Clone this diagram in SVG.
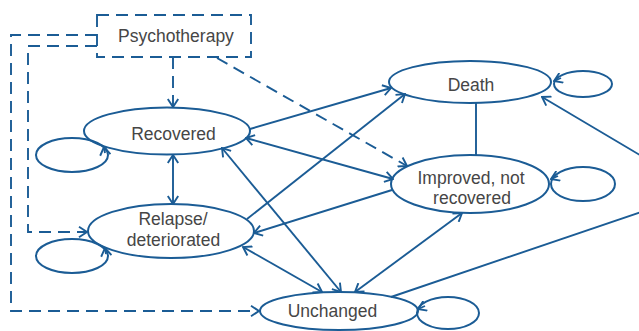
<svg xmlns="http://www.w3.org/2000/svg" width="639" height="331" viewBox="0 0 639 331">
<defs>
<marker id="arr" viewBox="0 0 12 12" refX="11" refY="6" markerWidth="12" markerHeight="12" markerUnits="userSpaceOnUse" orient="auto-start-reverse">
<path d="M3,0.8 L11,6 L3,11.2" fill="none" stroke="#1b5c95" stroke-width="1.9"/>
</marker>
</defs>
<style>
.n{fill:#fff;stroke:#1b5c95;stroke-width:2}
.l{fill:none;stroke:#1b5c95;stroke-width:2}
.c{fill:none;stroke:#1b5c95;stroke-width:1.9}
.d{fill:none;stroke:#1b5c95;stroke-width:1.9;stroke-dasharray:12 7}
.t{font-family:"Liberation Sans",Arial,sans-serif;font-size:17.5px;fill:#464646;text-anchor:middle}
</style>
<rect width="639" height="331" fill="#fff"/>
<g id="connectors">
<path class="d" d="M97,35 H11 V311 H259" marker-end="url(#arr)"/>
<path class="d" d="M97,46 H28 V232 H87" marker-end="url(#arr)"/>
<path class="d" d="M173,57 V107" marker-end="url(#arr)"/>
<path class="d" d="M217,58 L407,166" marker-end="url(#arr)"/>
<path class="c" d="M173,155 V204" marker-start="url(#arr)" marker-end="url(#arr)"/>
<path class="c" d="M250,129 L391,88" marker-end="url(#arr)"/>
<path class="c" d="M246,138 L393,179" marker-start="url(#arr)" marker-end="url(#arr)"/>
<path class="c" d="M247,219 L405,94" marker-end="url(#arr)"/>
<path class="c" d="M392,190 L254,233" marker-end="url(#arr)"/>
<path class="c" d="M222,148 L341,292" marker-start="url(#arr)" marker-end="url(#arr)"/>
<path class="c" d="M243,247 L322,292" marker-start="url(#arr)" marker-end="url(#arr)"/>
<path class="c" d="M462,213 L355,292" marker-start="url(#arr)" marker-end="url(#arr)"/>
<path class="c" d="M476,103 V155"/>
<path class="c" d="M391,297 L650,209"/>
<path class="c" d="M650,161 L542,97" marker-end="url(#arr)"/>
</g>
<g id="loops">
<ellipse class="l" cx="72" cy="155" rx="36" ry="17"/>
<path class="c" d="M105,153 L104,147" marker-end="url(#arr)"/>
<ellipse class="l" cx="72" cy="256" rx="36" ry="17"/>
<path class="c" d="M106,254 L105,248" marker-end="url(#arr)"/>
<ellipse class="l" cx="583" cy="84" rx="29" ry="13"/>
<path class="c" d="M561,78 L554,81" marker-end="url(#arr)"/>
<ellipse class="l" cx="583" cy="184" rx="32" ry="17"/>
<path class="c" d="M558,176 L551,179" marker-end="url(#arr)"/>
<ellipse class="l" cx="448" cy="313" rx="31" ry="16"/>
<path class="c" d="M425,306 L418,309" marker-end="url(#arr)"/>
</g>
<g id="psychotherapy">
<rect class="d" x="97" y="15" width="154" height="42"/>
<text class="t" x="176" y="42">Psychotherapy</text>
</g>
<g id="recovered">
<ellipse class="l" cx="167" cy="131" rx="83" ry="23.5"/>
<text class="t" x="173.5" y="140">Recovered</text>
</g>
<g id="relapse">
<ellipse class="l" cx="171" cy="231" rx="83" ry="27"/>
<text class="t" x="173" y="225">Relapse/</text>
<text class="t" x="173.5" y="246">deteriorated</text>
</g>
<g id="death">
<ellipse class="l" cx="470" cy="82" rx="81" ry="21"/>
<text class="t" x="471" y="91">Death</text>
</g>
<g id="improved">
<ellipse class="l" cx="470" cy="184" rx="79" ry="29"/>
<text class="t" x="471" y="184">Improved, not</text>
<text class="t" x="472" y="204">recovered</text>
</g>
<g id="unchanged">
<ellipse class="l" cx="339" cy="311" rx="79" ry="19"/>
<text class="t" x="332.5" y="317">Unchanged</text>
</g>
</svg>
